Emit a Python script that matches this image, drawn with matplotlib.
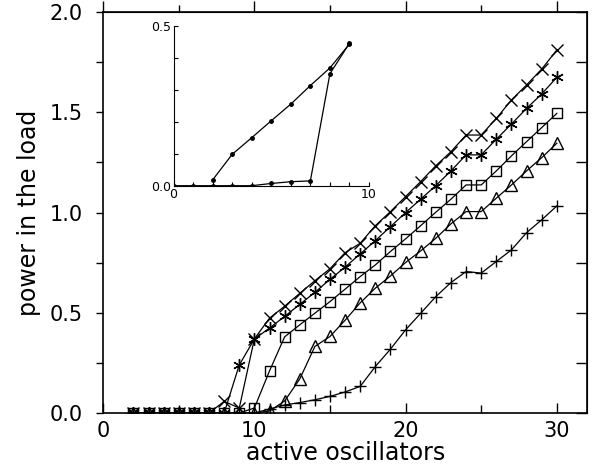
import numpy as np
import matplotlib.pyplot as plt

# number of active oscillators
n_osc = list(range(2, 31))

# power in the load, one series per marker
p_cross = [0, 0, 0, 0, 0, 0, 0.058, 0.025, 0.37, 0.473, 0.533, 0.597, 0.66, 0.72,
           0.80, 0.847, 0.935, 1.005, 1.08, 1.155, 1.234, 1.304, 1.387, 1.387,
           1.47, 1.562, 1.637, 1.716, 1.811]
p_star = [0, 0, 0, 0, 0, 0, 0, 0.24, 0.369, 0.424, 0.482, 0.542, 0.602, 0.667,
          0.728, 0.794, 0.86, 0.93, 1.0, 1.067, 1.135, 1.208, 1.288, 1.288,
          1.366, 1.442, 1.52, 1.592, 1.675]
p_square = [0, 0, 0, 0, 0, 0, 0, 0, 0.025, 0.21, 0.38, 0.44, 0.498, 0.556,
            0.618, 0.681, 0.739, 0.806, 0.869, 0.935, 1.002, 1.067, 1.138, 1.138,
            1.208, 1.283, 1.354, 1.424, 1.495]
p_tri = [0, 0, 0, 0, 0, 0, 0, 0, 0, 0.01, 0.06, 0.17, 0.332, 0.382,
         0.463, 0.55, 0.623, 0.684, 0.751, 0.809, 0.872, 0.944, 1.005, 1.005,
         1.072, 1.138, 1.208, 1.274, 1.346]
p_plus = [0, 0, 0, 0, 0, 0, 0, 0, 0, 0.02, 0.04, 0.052, 0.066, 0.083,
          0.105, 0.133, 0.232, 0.319, 0.415, 0.498, 0.581, 0.651, 0.706, 0.698,
          0.756, 0.814, 0.90, 0.964, 1.033]

# inset curves
inset_x_a = [2, 3, 4, 5, 6, 7, 8, 9]
inset_a = [0.018, 0.098, 0.15, 0.203, 0.255, 0.313, 0.368, 0.443]
inset_x_b = [0, 1, 2, 3, 4, 5, 6, 7, 8, 9]
inset_b = [0, 0, 0, 0, 0, 0.007, 0.0125, 0.015, 0.35, 0.445]

plt.rcParams['font.family'] = 'DejaVu Sans'

fig = plt.figure(figsize=(5.93, 4.68), dpi=100)
ax = fig.add_axes([0.174, 0.1175, 0.816, 0.8565])

lw = 0.9
ax.plot(n_osc, p_cross, 'k-', marker='x', ms=8, mew=1.0, lw=lw)
ax.plot(n_osc, p_star, 'k-', marker=(6, 2, 0), ms=9, mew=1.0, lw=lw)
ax.plot(n_osc, p_square, 'k-', marker='s', ms=7, mfc='none', mew=1.0, lw=lw)
ax.plot(n_osc, p_tri, 'k-', marker='^', ms=8, mfc='none', mew=1.0, lw=lw)
ax.plot(n_osc, p_plus, 'k-', marker='+', ms=9, mew=1.0, lw=lw)

ax.set_xlim(0, 32)
ax.set_ylim(0, 2.0)
ax.set_xticks([0, 10, 20, 30])
ax.set_xticks([5, 15, 25], minor=True)
ax.set_yticks([0, 0.5, 1.0, 1.5, 2.0])
ax.set_yticklabels(['0.0', '0.5', '1.0', '1.5', '2.0'])
ax.set_yticks([0.25, 0.75, 1.25, 1.75], minor=True)
ax.tick_params(axis='x', which='both', direction='in', top=False, labelsize=15, pad=6)
ax.tick_params(axis='x', which='major', length=7, width=1)
ax.tick_params(axis='x', which='minor', length=6, width=1)
ax.tick_params(axis='y', which='both', direction='out', right=False, labelsize=15,
               length=5, width=1, pad=10)
for s in ax.spines.values():
    s.set_linewidth(1.2)

secx = ax.secondary_xaxis('top')
secx.set_xticks([0, 10, 20, 30])
secx.set_xticks([5, 15, 25], minor=True)
secx.tick_params(which='both', direction='out', labeltop=False, width=1)
secx.tick_params(which='major', length=8)
secx.tick_params(which='minor', length=5)
secy = ax.secondary_yaxis('right')
secy.set_yticks([0, 0.5, 1.0, 1.5, 2.0])
secy.set_yticks([0.25, 0.75, 1.25, 1.75], minor=True)
secy.tick_params(which='both', direction='in', labelright=False, length=8, width=1)

ax.set_xlabel('active oscillators', fontsize=17, labelpad=0)
ax.set_ylabel('power in the load', fontsize=17, labelpad=6)

# inset
ins = fig.add_axes([0.2926, 0.6032, 0.3297, 0.3419])
ins.plot(inset_x_a, inset_a, 'k-', marker='o', ms=2.5, lw=0.9)
ins.plot(inset_x_b, inset_b, 'k-', marker='o', ms=2.5, lw=0.9)
ins.set_xlim(0, 10)
ins.set_ylim(0, 0.5)
ins.spines['top'].set_visible(False)
ins.spines['right'].set_visible(False)
ins.set_xticks([0, 10])
ins.set_xticks(range(1, 10), minor=True)
ins.set_yticks([0, 0.5])
ins.set_yticklabels(['0.0', '0.5'])
ins.set_yticks([0.1, 0.2, 0.3, 0.4], minor=True)
ins.tick_params(which='both', direction='in', length=3, width=0.8, labelsize=9, pad=2)
ins.patch.set_alpha(0)

fig.savefig('out.png', dpi=100)
